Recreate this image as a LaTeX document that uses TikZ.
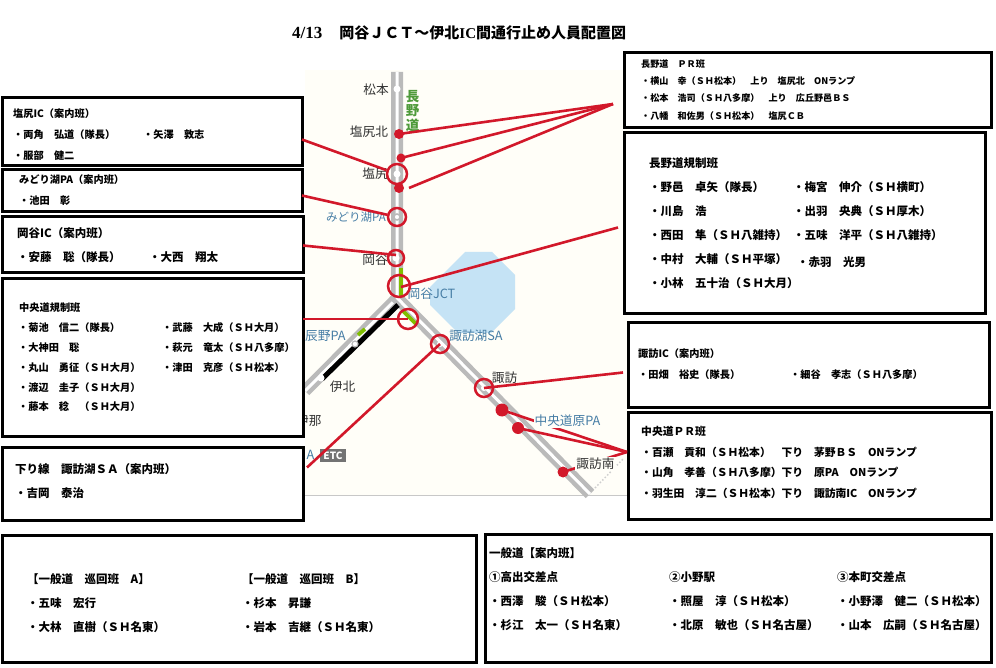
\documentclass[tikz,border=0pt]{standalone}
\usepackage{fontspec}
\setmainfont{Noto Sans CJK JP}
\newfontfamily\titlefont{Liberation Serif}
\usepackage{xcolor}
\usetikzlibrary{positioning}
\definecolor{mapred}{RGB}{210,24,42}
\definecolor{mapbg}{RGB}{255,254,248}
\definecolor{maproad}{RGB}{186,186,186}
\definecolor{maplake}{RGB}{197,227,245}
\definecolor{mapblue}{RGB}{70,125,165}
\definecolor{mapgreen}{RGB}{128,190,0}
\definecolor{maplabelgreen}{RGB}{78,154,58}
\definecolor{mapdark}{RGB}{50,50,50}
\tikzstyle{teambox} = [rectangle, draw=black, fill=white, line width=3pt, anchor=north west, inner sep=0pt, outer sep=0pt]
\tikzstyle{textline} = [anchor=west, inner sep=0pt, text height=.88em, text depth=.12em, yshift=-0.5pt]
\tikzstyle{prline} = [textline, font=\bfseries\fontsize{9.1}{11}\selectfont]
\tikzstyle{smline} = [textline, font=\bfseries\fontsize{10.2}{12}\selectfont]
\tikzstyle{mdline} = [textline, font=\bfseries\fontsize{10.8}{13}\selectfont]
\tikzstyle{lgline} = [textline, font=\bfseries\fontsize{11.5}{14}\selectfont]
\tikzstyle{mapname} = [inner sep=0pt, text=mapdark, font=\fontsize{12.7}{15}\selectfont]
\tikzstyle{pakname} = [mapname, text=mapblue]
\tikzstyle{road} = [draw=maproad, line width=4.5pt, double=white, double distance=3pt]
\tikzstyle{greenroad} = [draw=mapgreen, line width=3.8pt]
\tikzstyle{stopdot} = [circle, fill=white, inner sep=0pt, minimum size=7pt]
\tikzstyle{redring} = [circle, draw=mapred, line width=2.5pt, inner sep=0pt]
\tikzstyle{reddot} = [circle, fill=mapred, inner sep=0pt]
\tikzstyle{redline} = [draw=mapred, line width=2.6pt]
\begin{document}
\begin{tikzpicture}[x=1pt,y=-1pt]
\useasboundingbox (0,0) rectangle (996,668);
% map
\fill[mapbg] (305,70) rectangle (630,495);
\draw[maproad!80, line width=1pt] (305,495) -- (630,495);
\fill[maplake] (465,252) -- (492,252) -- (515,275) -- (515,309) -- (491,333) -- (458,333) -- (430,305) -- (430,287) -- cycle;
\coordinate (jct) at (397.2,298);
\coordinate (mapN) at (397.2,72);
\coordinate (mapSE) at (590,494);
\coordinate (mapSW) at (305,391);
\draw[road] (jct) -- (mapSW);
\draw[road] (mapN) -- (jct) -- (mapSE);
\draw[draw=black, line width=5pt] (398,305) -- (322,379);
\draw[greenroad] (400.7,268) -- (400.7,297);
\draw[greenroad] (403,311) -- (416,324);
\draw[greenroad] (358,335) -- (365,329);
\draw[maproad!70, line width=1.5pt, dotted] (595,488) -- (624,458);
\node (stopMatsumoto) [stopdot] at (397,89) {};
\node (stopShiojiri) [stopdot] at (397,174) {};
\node (stopMidori) [stopdot, draw=maproad, line width=1.5pt, minimum size=6pt] at (397,217) {};
\node (stopOkaya) [stopdot] at (396,258) {};
\node (stopTatsuno) [stopdot, draw=maproad, line width=1.2pt, minimum size=6pt] at (355,344) {};
\node (stopIkita) [stopdot] at (321,378) {};
\node (stopSuwako) [stopdot, minimum size=6pt] at (440,344) {};
\node (stopSuwa) [stopdot, minimum size=6pt] at (484,388) {};
% map labels
\node (lblMatsumoto) [mapname] at (376,90) {松本};
\node (lblNagano) [inner sep=0pt, align=center, text=maplabelgreen, font=\bfseries\fontsize{13.5}{14.5}\selectfont] at (412.5,111) {長\\野\\道};
\node (lblShiojiriN) [mapname] at (369,132) {塩尻北};
\node (lblShiojiri) [mapname] at (375,174) {塩尻};
\node (lblMidori) [pakname, font=\fontsize{11.5}{14}\selectfont] at (356,217) {みどり湖PA};
\node (lblOkaya) [mapname] at (375,260) {岡谷};
\node (lblJct) [pakname] at (431.5,294) {岡谷JCT};
\node (lblTatsuno) [pakname, anchor=west] at (305,336) {辰野PA};
\node (lblSuwako) [pakname] at (476,336) {諏訪湖SA};
\node (lblIkita) [mapname] at (342.5,387) {伊北};
\node (lblIna) [mapname, anchor=west] at (296,421) {伊那};
\node (lblPaEnd) [pakname, anchor=west] at (306.5,455) {A};
\node (lblEtc) [fill=black!55, text=white, inner sep=0pt, minimum width=26pt, minimum height=13pt, font=\bfseries\fontsize{10}{12}\selectfont] at (333,455.5) {ETC};
\node (lblSuwa) [mapname] at (504.5,378) {諏訪};
% stop points on the road
\node (ringShiojiri) [redring, minimum size=20pt] at (397,174) {};
\node (ringMidori) [redring, minimum size=18pt] at (397,217) {};
\node (ringOkaya) [redring, minimum size=16pt] at (396,258) {};
\node (ringJct) [redring, minimum size=22pt] at (399,286) {};
\node (ringChuo) [redring, minimum size=20pt] at (408,319) {};
\node (ringSuwako) [redring, minimum size=18pt] at (440,344) {};
\node (ringSuwa) [redring, minimum size=18pt] at (484,388) {};
\node (dotShiojiriN) [reddot, minimum size=10pt] at (399,134) {};
\node (dotHirooka) [reddot, minimum size=9pt] at (401,158) {};
\node (dotShiojiriCb) [reddot, minimum size=10pt] at (399,188) {};
\node (dotChino) [reddot, minimum size=13pt] at (502,410) {};
\node (dotHara) [reddot, minimum size=12pt] at (518,428) {};
\node (dotSuwaS) [reddot, minimum size=11pt] at (563,472) {};
% boxes
\node (boxShiojiri) [teambox, minimum width=300pt, minimum height=68pt] at (2,97.5) {};
\node (boxMidori) [teambox, minimum width=300pt, minimum height=42pt] at (2,169.5) {};
\node (boxOkaya) [teambox, minimum width=301pt, minimum height=56pt] at (2,216.5) {};
\node (boxChuoReg) [teambox, minimum width=301pt, minimum height=158pt] at (2,278.5) {};
\node (boxSuwako) [teambox, minimum width=301pt, minimum height=73pt] at (2,447.5) {};
\node (boxNaganoPr) [teambox, minimum width=367pt, minimum height=75pt] at (624,53) {};
\node (boxNaganoReg) [teambox, minimum width=361pt, minimum height=181pt] at (624,132.5) {};
\node (boxSuwa) [teambox, minimum width=361pt, minimum height=85pt] at (628,322.5) {};
\node (boxChuoPr) [teambox, minimum width=363pt, minimum height=107pt] at (628,412.5) {};
\node (boxPatrol) [teambox, minimum width=474pt, minimum height=127pt] at (2,535.5) {};
\node (boxGuide) [teambox, minimum width=506pt, minimum height=128pt] at (485,534.5) {};
% connectors
\coordinate (fanApex) at (613,104);
\coordinate (prApex) at (627,452);
\draw[redline] (dotShiojiriN.center) -- (fanApex);
\draw[redline] (dotHirooka.center) -- (fanApex);
\draw[redline] ([xshift=10pt]dotShiojiriCb.center) -- (fanApex);
\draw[redline] ([yshift=-8pt]boxShiojiri.east) -- (ringShiojiri);
\draw[redline] ([yshift=-5pt]boxMidori.east) -- (ringMidori);
\draw[redline] ([yshift=-1pt]boxOkaya.east) -- ([yshift=3pt]ringOkaya.center);
\draw[redline] ([shift={(-6pt,-4.5pt)}]boxNaganoReg.west) -- ([shift={(2pt,-1pt)}]ringJct.center);
\draw[redline] (boxChuoReg.east |- ringChuo.center) -- (ringChuo.center);
\draw[redline] (ringSuwako.center) -- ([shift={(4pt,16.5pt)}]boxSuwako.east);
\draw[redline] (ringSuwa.center) -- ([shift={(-5pt,-7.5pt)}]boxSuwa.west);
\draw[redline] (dotChino.center) -- (prApex);
\draw[redline] (dotHara.center) -- (prApex);
\draw[redline] (dotSuwaS.center) -- (prApex);
\node (lblHara) [pakname, fill=mapbg, inner xsep=1pt, inner ysep=1pt] at (567.5,421) {中央道原PA};
\node (lblSuwaS) [mapname, fill=mapbg, inner xsep=1pt, inner ysep=1pt] at (595.5,464) {諏訪南};
% title
\node (title) [anchor=west, inner sep=0pt, font=\bfseries\fontsize{15}{17}\selectfont] at (292,33) {{\titlefont\fontsize{17}{19}\selectfont 4/13}\hspace{17pt}岡谷ＪＣＴ～伊北{\titlefont IC}間通行止め人員配置図};
% team texts, left side
\node (s0) [smline] at (13,113) {塩尻IC（案内班）};
\node (s1) [smline] at (13,134) {・両角　弘道（隊長）};
\node (s2) [smline] at (143,134) {・矢澤　敦志};
\node (s3) [smline] at (13,155) {・服部　健二};
\node (m0) [smline] at (19,179) {みどり湖PA（案内班）};
\node (m1) [smline] at (19,200) {・池田　彰};
\node (o0) [lgline] at (17,233) {岡谷IC（案内班）};
\node (o1) [lgline] at (17,257) {・安藤　聡（隊長）};
\node (o2) [lgline] at (149,257) {・大西　翔太};
\node (c0) [smline] at (19,307) {中央道規制班};
\node (c1) [smline] at (18,327) {・菊池　信二（隊長）};
\node (c2) [smline] at (18,347) {・大神田　聡};
\node (c3) [smline] at (18,367) {・丸山　勇征（ＳＨ大月）};
\node (c4) [smline] at (18,387) {・渡辺　圭子（ＳＨ大月）};
\node (c5) [smline] at (18,406) {・藤本　稔　（ＳＨ大月）};
\node (c6) [smline] at (162,327) {・武藤　大成（ＳＨ大月）};
\node (c7) [smline] at (162,347) {・萩元　竜太（ＳＨ八多摩）};
\node (c8) [smline] at (162,367) {・津田　克彦（ＳＨ松本）};
\node (k0) [lgline] at (15,469) {下り線　諏訪湖ＳＡ（案内班）};
\node (k1) [lgline] at (15,493) {・吉岡　泰治};
% team texts, right side
\node (p0) [prline] at (641,63) {長野道　ＰＲ班};
\node (p1) [prline] at (641,80) {・横山　幸（ＳＨ松本）　上り　塩尻北　ONランプ};
\node (p2) [prline] at (641,97.5) {・松本　浩司（ＳＨ八多摩）　上り　広丘野邑ＢＳ};
\node (p3) [prline] at (641,115.5) {・八幡　和佐男（ＳＨ松本）　塩尻ＣＢ};
\node (n0) [lgline] at (649,163) {長野道規制班};
\node (n1) [lgline] at (649,187) {・野邑　卓矢（隊長）};
\node (n2) [lgline] at (649,211) {・川島　浩};
\node (n3) [lgline] at (649,235) {・西田　隼（ＳＨ八雑持）};
\node (n4) [lgline] at (649,259) {・中村　大輔（ＳＨ平塚）};
\node (n5) [lgline] at (649,283) {・小林　五十治（ＳＨ大月）};
\node (n6) [lgline] at (793,187) {・梅宮　伸介（ＳＨ横町）};
\node (n7) [lgline] at (793,211) {・出羽　央典（ＳＨ厚木）};
\node (n8) [lgline] at (793,235) {・五味　洋平（ＳＨ八雑持）};
\node (n9) [lgline] at (797,262) {・赤羽　光男};
\node (w0) [smline] at (638,353) {諏訪IC（案内班）};
\node (w1) [smline] at (638,374) {・田畑　裕史（隊長）};
\node (w2) [smline] at (790,374) {・細谷　孝志（ＳＨ八多摩）};
\node (q0) [mdline] at (641,431) {中央道ＰＲ班};
\node (q1) [mdline] at (641,452) {・百瀬　貢和（ＳＨ松本）　下り　茅野ＢＳ　ONランプ};
\node (q2) [mdline] at (641,472) {・山角　孝善（ＳＨ八多摩）下り　原PA　ONランプ};
\node (q3) [mdline] at (641,493) {・羽生田　淳二（ＳＨ松本）下り　諏訪南IC　ONランプ};
% team texts, bottom
\node (a0) [lgline] at (27,579) {【一般道　巡回班　A】};
\node (a1) [lgline] at (27,603) {・五味　宏行};
\node (a2) [lgline] at (27,627) {・大林　直樹（ＳＨ名東）};
\node (b0) [lgline] at (242,579) {【一般道　巡回班　B】};
\node (b1) [lgline] at (242,603) {・杉本　昇謙};
\node (b2) [lgline] at (242,627) {・岩本　吉継（ＳＨ名東）};
\node (g0) [lgline] at (489,553) {一般道【案内班】};
\node (g1) [lgline] at (489,577) {①高出交差点};
\node (g2) [lgline] at (489,601) {・西澤　駿（ＳＨ松本）};
\node (g3) [lgline] at (489,625) {・杉江　太一（ＳＨ名東）};
\node (g4) [lgline] at (669,577) {②小野駅};
\node (g5) [lgline] at (669,601) {・照屋　淳（ＳＨ松本）};
\node (g6) [lgline] at (669,625) {・北原　敏也（ＳＨ名古屋）};
\node (g7) [lgline] at (837,577) {③本町交差点};
\node (g8) [lgline] at (837,601) {・小野澤　健二（ＳＨ松本）};
\node (g9) [lgline] at (837,625) {・山本　広嗣（ＳＨ名古屋）};
\end{tikzpicture}
\end{document}
